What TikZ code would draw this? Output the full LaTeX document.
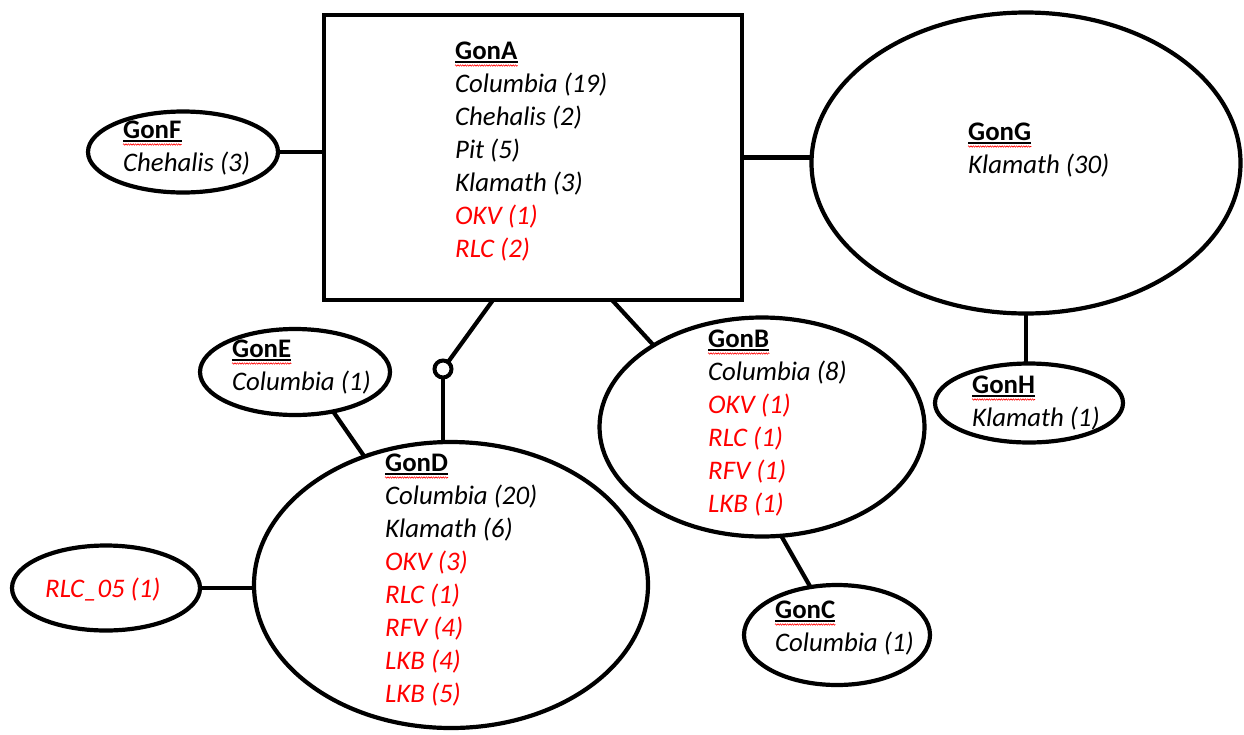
\documentclass[tikz,border=0pt]{standalone}
\usepackage{fontspec}
\setmainfont{Carlito}
\usetikzlibrary{shapes.geometric,decorations.pathmorphing,calc}
\definecolor{txtred}{RGB}{255,0,0}
\newcommand\gontitle[3]{%
  \node[ttl] (#1) at (#2) {#3};
  \draw[uline] ([yshift=-3pt]#1.base west) -- ([yshift=-3pt]#1.base east);
  \draw[squig] ([yshift=-6.5pt]#1.base west) -- ([yshift=-6.5pt]#1.base east);}
\newcommand\gonlines[4]{%
  \foreach \cl/\tx [count=\i] in {#4} {
    \node[ln,text=\cl] (#1\i) at (#2,{#3+33*\i}) {\tx};
  }}
\begin{document}
\begin{tikzpicture}[x=1pt,y=-1pt,
  ell/.style={ellipse,draw,line width=4.2pt,inner sep=0pt,outer sep=0pt},
  conn/.style={line width=4.2pt},
  ttl/.style={anchor=base west,inner sep=0pt,font=\fontsize{26.8}{33}\selectfont\bfseries},
  ln/.style={anchor=base west,inner sep=0pt,font=\fontsize{26.8}{33}\selectfont\itshape},
  uline/.style={line width=1.4pt},
  squig/.style={txtred,line width=0.6pt,decorate,decoration={zigzag,amplitude=0.7pt,segment length=2.4pt}}]
\useasboundingbox (0,0) rectangle (1244,734);

% shapes
\node[draw,line width=4.5pt,inner sep=0pt,outer sep=0pt,minimum width=418pt,minimum height=285pt] (A) at (533,157.5) {};
\node[ell,minimum width=190pt,minimum height=81pt] (F) at (183,152) {};
\node[ell,minimum width=429pt,minimum height=301pt] (G) at (1026,163) {};
\node[ell,minimum width=188pt,minimum height=79pt] (H) at (1029,403) {};
\node[ell,minimum width=190pt,minimum height=86pt] (E) at (295,372) {};
\node[ell,minimum width=394pt,minimum height=286pt] (D) at (451,585) {};
\node[ell,minimum width=325pt,minimum height=219pt] (B) at (762,427) {};
\node[ell,minimum width=186pt,minimum height=100pt] (C) at (837,635) {};
\node[ell,minimum width=188pt,minimum height=85pt] (R) at (106,588) {};
\node[circle,draw,line width=4pt,fill=white,minimum size=17pt,inner sep=0pt,outer sep=0pt] (ring) at (443,369) {};

% connectors
\coordinate (aD) at ($(A.south west)+(169,0)$);
\coordinate (aB) at ($(A.south west)+(288,0)$);
\draw[conn] (F.east) -- (F.east -| A.west);
\draw[conn] (A.east) -- (A.east -| G.west);
\draw[conn] (G.south) -- (G.south |- H.north);
\draw[conn] (aD) -- (ring);
\draw[conn] (ring) -- (ring |- D.north);
\draw[conn] (aB) -- (B.143);
\draw[conn] (E.-46) -- (D.124);
\draw[conn] (B.-80) -- (C.119);
\draw[conn] (R.east) -- (R.east -| D.west);

% texts
\gontitle{At}{455,59}{GonA}
\gonlines{aL}{455}{59}{black/Columbia (19),black/Chehalis (2),black/Pit (5),black/Klamath (3),txtred/OKV (1),txtred/RLC (2)}
\gontitle{Ft}{123,138}{GonF}
\gonlines{fL}{123}{138}{black/Chehalis (3)}
\gontitle{Gt}{968,140}{GonG}
\gonlines{gL}{968}{140}{black/Klamath (30)}
\gontitle{Ht}{972,393}{GonH}
\gonlines{hL}{972}{393}{black/Klamath (1)}
\gontitle{Et}{232,357}{GonE}
\gonlines{eL}{232}{357}{black/Columbia (1)}
\gontitle{Dt}{385,471}{GonD}
\gonlines{dL}{385}{471}{black/Columbia (20),black/Klamath (6),txtred/OKV (3),txtred/RLC (1),txtred/RFV (4),txtred/LKB (4),txtred/LKB (5)}
\gontitle{Bt}{708,347}{GonB}
\gonlines{bL}{708}{347}{black/Columbia (8),txtred/OKV (1),txtred/RLC (1),txtred/RFV (1),txtred/LKB (1)}
\gontitle{Ct}{775,618}{GonC}
\gonlines{cL}{775}{618}{black/Columbia (1)}
\node[ln,text=txtred] (Rt) at (45,597) {RLC\_05 (1)};
\end{tikzpicture}
\end{document}
